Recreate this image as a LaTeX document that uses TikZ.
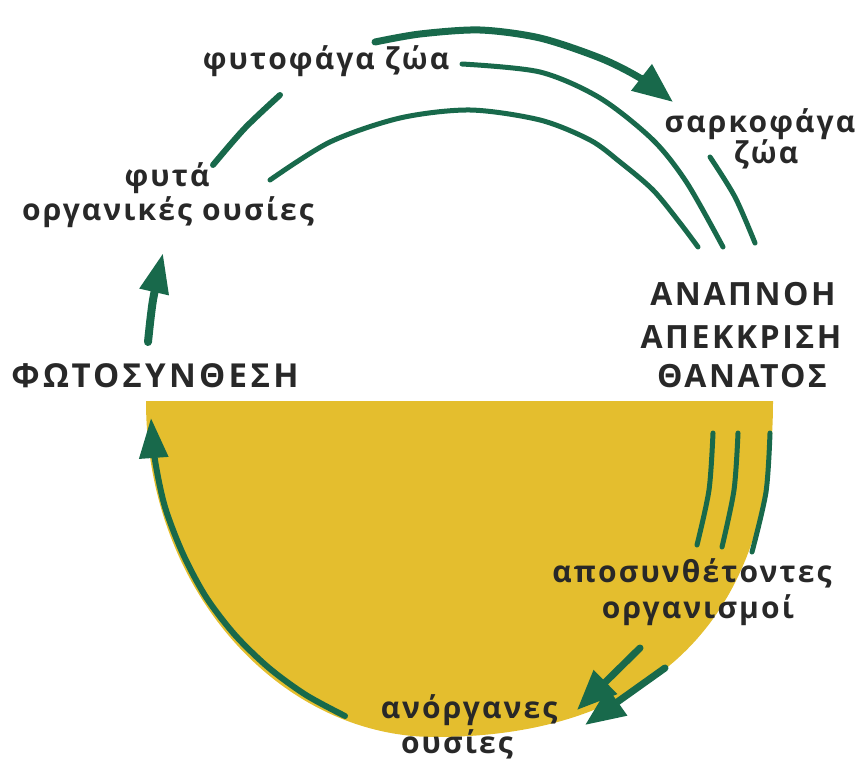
\documentclass[tikz,border=0pt]{standalone}
\usepackage{fontspec}
\setmainfont{Open Sans}
\newfontfamily\labfont{Open Sans}[LetterSpace=7.0]
\newfontfamily\capfont{Open Sans}[LetterSpace=8.0]
\newfontfamily\capwidefont{Open Sans}[LetterSpace=10.0]
\usetikzlibrary{arrows.meta}
\definecolor{cyclegreen}{RGB}{24,105,75}
\definecolor{soilyellow}{RGB}{228,190,46}
\definecolor{txtgrey}{RGB}{40,40,40}
\tikzset{
  lbl/.style={font=\labfont\bfseries\fontsize{30}{34}\selectfont, text=txtgrey, inner sep=0pt, anchor=base},
  caps/.style={font=\capfont\bfseries\fontsize{32}{36}\selectfont, text=txtgrey, inner sep=0pt, anchor=base},
  flow/.style={draw=cyclegreen, line width=5pt, line cap=round},
  bigtip/.style={-{Triangle[length=40pt,width=32pt]}},
  midtip/.style={-{Triangle[length=40pt,width=28pt]}},
}
\begin{document}
\begin{tikzpicture}[x=1pt,y=-1pt]
\useasboundingbox (0,0) rectangle (864,765);
% soil half-disc
\fill[soilyellow] (146,401) -- (773,401) .. controls (773,619) and (653,737) .. (435,737)
  .. controls (280,737) and (146,590) .. (146,401) -- cycle;
% labels
\node[lbl] (herb) at (326,70) {φυτοφάγα ζώα};
\node[lbl] (carn1) at (760,132) {σαρκοφάγα};
\node[lbl] (carn2) at (766,163) {ζώα};
\node[lbl] (plant1) at (167,186) {φυτά};
\node[lbl] (plant2) at (168,220) {οργανικές ουσίες};
\node[caps, font=\capwidefont\bfseries\fontsize{33}{36}\selectfont] (photo) at (155,387) {ΦΩΤΟΣΥΝΘΕΣΗ};
\node[caps] (resp1) at (743,305) {ΑΝΑΠΝΟΗ};
\node[caps] (resp2) at (741,348) {ΑΠΕΚΚΡΙΣΗ};
\node[caps] (resp3) at (742,387) {ΘΑΝΑΤΟΣ};
\node[lbl] (dec1) at (692,582) {αποσυνθέτοντες};
\node[lbl] (dec2) at (698,618) {οργανισμοί};
\node[lbl] (inorg1) at (469,718) {ανόργανες};
\node[lbl] (inorg2) at (457,753) {ουσίες};
% arrows and arcs
\draw[flow, line width=7pt, bigtip] plot[smooth] coordinates {(375,42) (420,34) (480,30) (540,38) (600,58) (640,78) (673,102)};
\draw[flow] plot[smooth] coordinates {(462,64) (540,72) (600,98) (653,140) (687,183) (723,247)};
\draw[flow] plot[smooth] coordinates {(270,180) (330,142) (400,118) (470,110) (540,120) (590,140) (620,162) (653,190) (680,223) (698,247)};
\draw[flow] plot[smooth] coordinates {(710,157) (735,197) (755,243)};
\draw[flow, line width=6pt] plot[smooth] coordinates {(213,165) (245,128) (280,95)};
\draw[flow, line width=8pt, midtip] plot[smooth] coordinates {(148,342) (153,300) (163,253)};
\draw[flow, line width=6pt, midtip] plot[smooth] coordinates {(345,716) (306,695) (269,668) (235,635) (206,597) (183,554) (165,507) (155,460) (151,418)};
\draw[flow] plot[smooth] coordinates {(713,433) (709,490) (697,545)};
\draw[flow] plot[smooth] coordinates {(738,433) (734,490) (722,547)};
\draw[flow] plot[smooth] coordinates {(770,433) (766,492) (752,552)};
\draw[flow, line width=7pt, bigtip] plot[smooth] coordinates {(640,648) (577,710)};
\draw[flow, line width=7pt, bigtip] plot[smooth] coordinates {(665,668) (585,725)};
\end{tikzpicture}
\end{document}
